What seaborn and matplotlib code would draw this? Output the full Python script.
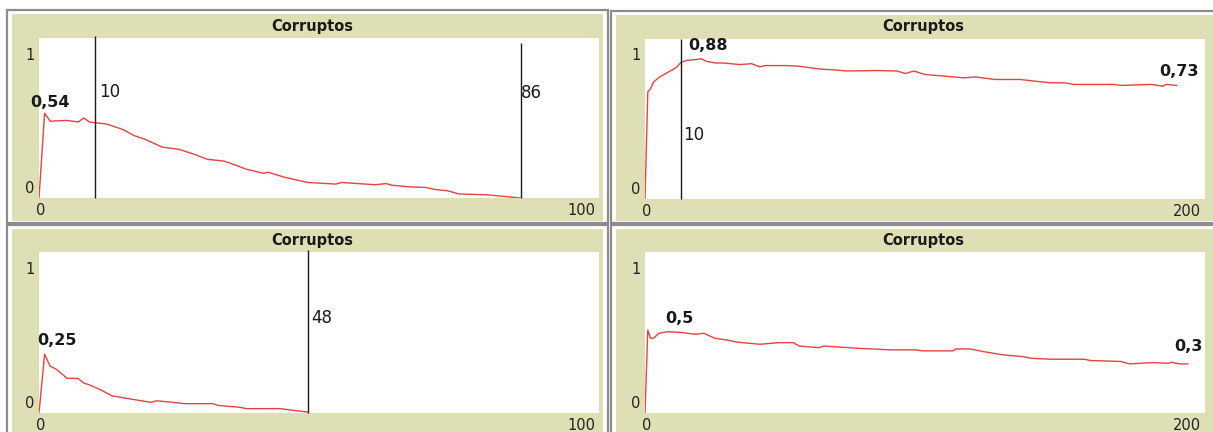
import matplotlib
matplotlib.use("Agg")
import matplotlib.pyplot as plt
from matplotlib.patches import Rectangle
import seaborn as sns

# ---- data ----
title = "Corruptos"

p1_x = [0, 1, 2, 5, 7, 8, 9, 12, 15, 17, 19, 22, 25, 28, 30, 33, 35, 37, 40, 41,
        44, 48, 53, 54, 60, 62, 63, 66, 69, 71, 73, 75, 80, 83, 86]
p1_y = [0, 0.53, 0.48, 0.485, 0.475, 0.50, 0.475, 0.463, 0.428, 0.39, 0.366, 0.318,
        0.304, 0.27, 0.242, 0.231, 0.207, 0.18, 0.155, 0.16, 0.128, 0.097, 0.087,
        0.097, 0.083, 0.09, 0.08, 0.07, 0.066, 0.052, 0.045, 0.025, 0.02, 0.01, 0.0]
p1_vlines = [10, 86]
p1_vtops = [1.01, 0.97]

p2_x = [0, 1, 2, 3, 5, 8, 11, 13, 15, 18, 20, 22, 25, 28, 34, 38, 41, 43, 50, 55,
        62, 69, 72, 83, 90, 93, 96, 100, 107, 114, 118, 125, 134, 139, 145, 150,
        153, 167, 170, 181, 185, 186, 190]
p2_y = [0, 0.67, 0.69, 0.73, 0.76, 0.79, 0.82, 0.855, 0.867, 0.871, 0.877, 0.86,
        0.85, 0.85, 0.84, 0.846, 0.826, 0.834, 0.834, 0.83, 0.813, 0.805, 0.80,
        0.803, 0.80, 0.784, 0.80, 0.778, 0.768, 0.757, 0.763, 0.747, 0.747, 0.737,
        0.726, 0.726, 0.716, 0.716, 0.71, 0.716, 0.705, 0.716, 0.71]
p2_vlines = [12.8]
p2_vtops = [1.0]

p3_x = [0, 1, 2, 3, 5, 7, 8, 9, 11, 13, 16, 19, 20, 21, 24, 26, 31, 32, 36, 37,
        43, 46, 48]
p3_y = [0, 0.365, 0.29, 0.274, 0.216, 0.214, 0.186, 0.175, 0.144, 0.107, 0.089,
        0.072, 0.066, 0.076, 0.066, 0.058, 0.058, 0.047, 0.035, 0.027, 0.027,
        0.014, 0.006]
p3_vlines = [48]
p3_vtops = [1.01]

p4_x = [0, 1, 2, 3, 5, 8, 13, 18, 21, 25, 29, 33, 41, 48, 53, 55, 62, 64, 76, 88,
        97, 99, 110, 111, 116, 121, 128, 135, 138, 145, 157, 159, 170, 173, 181,
        187, 188, 191, 194]
p4_y = [0, 0.515, 0.464, 0.464, 0.495, 0.505, 0.50, 0.489, 0.495, 0.464, 0.454,
        0.44, 0.427, 0.437, 0.437, 0.416, 0.406, 0.416, 0.402, 0.392, 0.392, 0.386,
        0.386, 0.398, 0.398, 0.381, 0.361, 0.35, 0.34, 0.334, 0.334, 0.326, 0.32,
        0.305, 0.313, 0.309, 0.315, 0.305, 0.305]
p4_vlines = []
p4_vtops = []

x_max = [100, 200, 100, 200]

# text labels placed on the plots: (text, bold)
p1_labels = [("0,54", True), ("10", False), ("86", False)]
p2_labels = [("0,88", True), ("10", False), ("0,73", True)]
p3_labels = [("0,25", True), ("48", False)]
p4_labels = [("0,5", True), ("0,3", True)]

# ---- layout (pixels of the 1213x432 canvas) ----
W, H = 1213, 432
BEIGE = "#dfdfb6"
RED = "#e3443e"

panels = [
    dict(x=p1_x, y=p1_y, vl=p1_vlines, vt=p1_vtops, labels=p1_labels,
         pos=[(-1.6, 0.594), (10.7, 0.66), (86.1, 0.656)],
         ax=(39, 38, 599, 198), frame=(7, 10, 608, 223), bg=(12, 14, 603, 221),
         tx=312, ty=26),
    dict(x=p2_x, y=p2_y, vl=p2_vlines, vt=p2_vtops, labels=p2_labels,
         pos=[(15.6, 0.96), (13.5, 0.40), (183.8, 0.80)],
         ax=(645, 39, 1205, 199), frame=(611, 11, 1216, 223), bg=(616, 15, 1216, 221),
         tx=923, ty=27),
    dict(x=p3_x, y=p3_y, vl=p3_vlines, vt=p3_vtops, labels=p3_labels,
         pos=[(-0.4, 0.453), (48.6, 0.59)],
         ax=(39, 252, 599, 413), frame=(7, 225, 608, 440), bg=(12, 229, 603, 440),
         tx=312, ty=240),
    dict(x=p4_x, y=p4_y, vl=p4_vlines, vt=p4_vtops, labels=p4_labels,
         pos=[(7.3, 0.59), (189, 0.41)],
         ax=(645, 252, 1205, 413), frame=(611, 225, 1216, 440), bg=(616, 229, 1216, 440),
         tx=923, ty=240),
]

sns.set_theme(style="white")
plt.rcParams["font.family"] = ["DejaVu Sans"]

fig = plt.figure(figsize=(W / 100, H / 100), dpi=100)
fig.patch.set_facecolor("white")


def fig_rect(box, **kw):
    x0, y0, x1, y1 = box
    return Rectangle((x0 / W, 1 - y1 / H), (x1 - x0) / W, (y1 - y0) / H,
                     transform=fig.transFigure, **kw)


for i, p in enumerate(panels):
    # widget frame + khaki background
    fig.add_artist(fig_rect(p["frame"], facecolor="white", edgecolor="#8c8c8c",
                            linewidth=1.6, zorder=-10))
    fig.add_artist(fig_rect(p["bg"], facecolor=BEIGE, edgecolor="none", zorder=-9))
    fig.text(p["tx"] / W, 1 - p["ty"] / H, title, ha="center", va="center",
             fontsize=10.5, fontweight="bold", color="#1a1a1a")

    x0, y0, x1, y1 = p["ax"]
    ax = fig.add_axes([x0 / W, 1 - y1 / H, (x1 - x0) / W, (y1 - y0) / H])
    ax.set_facecolor("white")
    for s in ax.spines.values():
        s.set_visible(False)

    sns.lineplot(x=p["x"], y=p["y"], ax=ax, color=RED, linewidth=1.0,
                 estimator=None, sort=False, legend=False)
    if p["vl"]:
        ax.vlines(p["vl"], 0, p["vt"], color="#1a1a1a", linewidth=1.0, clip_on=False)

    ax.set_xlim(0, x_max[i])
    ax.set_ylim(0, 1)
    ax.set_xticks([])
    ax.set_yticks([])
    ax.set_xlabel("")
    ax.set_ylabel("")

    for (txt, bold), (lx, ly) in zip(p["labels"], p["pos"]):
        ax.text(lx, ly, txt, ha="left", va="center", color="#1a1a1a",
                fontsize=11.5 if bold else 12, fontweight="bold" if bold else "normal")

    # NetLogo style axis labels
    tk = dict(fontsize=10.5, color="#222222", xycoords="axes fraction",
              textcoords="offset pixels")
    ax.annotate("1", (0, 1), (-9, -17), ha="center", va="center", **tk)
    ax.annotate("0", (0, 0), (-9, 9), ha="center", va="center", **tk)
    ax.annotate("0", (0, 0), (2, -13), ha="center", va="center", **tk)
    ax.annotate(str(x_max[i]), (1, 0), (-4, -13), ha="right", va="center", **tk)

fig.savefig("out.png", dpi=100)
